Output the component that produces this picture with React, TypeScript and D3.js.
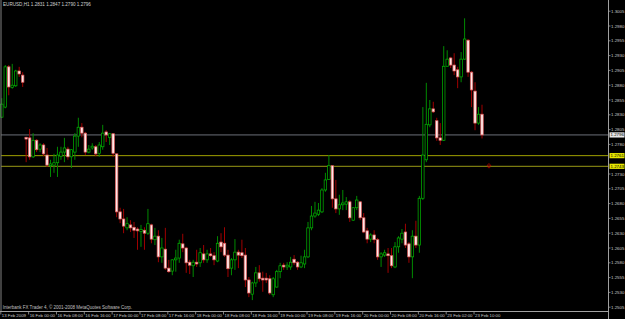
import React from "react";
import * as d3 from "d3";

const symbolTitle = "EURUSD,H1";

const opens = [
  1.2826, 1.2843, 1.2911, 1.2876, 1.2879, 1.2904, 1.2897, 1.2792, 1.2791, 1.2759,
  1.2787, 1.2772, 1.2779, 1.2762, 1.2744, 1.2745, 1.2749, 1.276, 1.2767, 1.2772,
  1.2759, 1.2767, 1.2794, 1.2809, 1.2799, 1.2767, 1.2774, 1.2776, 1.2765, 1.2776,
  1.2801, 1.2792, 1.2798, 1.2764, 1.2666, 1.2654, 1.2639, 1.2644, 1.264, 1.2637,
  1.2633, 1.2635, 1.263, 1.2644, 1.2619, 1.2625, 1.259, 1.2603, 1.2571, 1.2566,
  1.2585, 1.2588, 1.2612, 1.2605, 1.2581, 1.2575, 1.2581, 1.258, 1.2595, 1.2585,
  1.2595, 1.2592, 1.2583, 1.2615, 1.2613, 1.2593, 1.2571, 1.2585, 1.2598, 1.2597,
  1.2593, 1.2551, 1.2527, 1.2546, 1.2563, 1.2554, 1.2554, 1.2553, 1.2526, 1.2539,
  1.2565, 1.2576, 1.2573, 1.2573, 1.2586, 1.2581, 1.2573, 1.2578, 1.259, 1.2639,
  1.2659, 1.2662, 1.2666, 1.2703, 1.2721, 1.2744, 1.2688, 1.2671, 1.2678, 1.2679,
  1.2683, 1.2652, 1.2673, 1.2683, 1.2656, 1.2634, 1.262, 1.2627, 1.2619, 1.259,
  1.2593, 1.2595, 1.2592, 1.2573, 1.2607, 1.262, 1.2632, 1.2612, 1.259, 1.2625,
  1.261, 1.2689, 1.2754, 1.2813, 1.284, 1.282, 1.2791, 1.2787, 1.2912, 1.2926,
  1.2914, 1.2906, 1.2894, 1.2924, 1.2956, 1.2902, 1.287, 1.2816, 1.2831,
];
const highs = [
  1.2858, 1.2914, 1.2914, 1.2916, 1.2906, 1.2911, 1.2902, 1.2793, 1.2806, 1.2799,
  1.2789, 1.2782, 1.2782, 1.2774, 1.2754, 1.2764, 1.2776, 1.2776, 1.2791, 1.2776,
  1.2772, 1.2799, 1.2825, 1.2816, 1.2801, 1.2779, 1.2782, 1.2779, 1.2784, 1.2813,
  1.2804, 1.2799, 1.2799, 1.2765, 1.2673, 1.2671, 1.2657, 1.2652, 1.2649, 1.264,
  1.2644, 1.264, 1.2671, 1.2646, 1.2639, 1.2635, 1.2622, 1.2639, 1.2585, 1.2586,
  1.2602, 1.2619, 1.2629, 1.2607, 1.2585, 1.2585, 1.2602, 1.2605, 1.261, 1.2602,
  1.2605, 1.2598, 1.2625, 1.263, 1.264, 1.2602, 1.2588, 1.262, 1.2602, 1.2619,
  1.2605, 1.2556, 1.2548, 1.2573, 1.2576, 1.2565, 1.2563, 1.2559, 1.2556, 1.2568,
  1.258, 1.258, 1.2581, 1.259, 1.2593, 1.2583, 1.2592, 1.2602, 1.2649, 1.2676,
  1.2683, 1.2681, 1.2706, 1.2732, 1.2762, 1.2745, 1.272, 1.2695, 1.2703, 1.2691,
  1.2686, 1.2674, 1.2693, 1.2684, 1.2664, 1.2639, 1.263, 1.2635, 1.2622, 1.2598,
  1.2602, 1.2605, 1.2605, 1.2615, 1.2625, 1.2637, 1.2646, 1.2615, 1.2635, 1.2651,
  1.2693, 1.2843, 1.2884, 1.2855, 1.2852, 1.2825, 1.2816, 1.2946, 1.2939, 1.2928,
  1.2934, 1.2911, 1.2936, 1.2993, 1.2958, 1.2904, 1.2885, 1.2843, 1.2847,
];
const lows = [
  1.2825, 1.2841, 1.2863, 1.2874, 1.2877, 1.2894, 1.2877, 1.275, 1.2754, 1.2757,
  1.2767, 1.2767, 1.276, 1.2742, 1.2725, 1.2732, 1.2725, 1.2754, 1.275, 1.2754,
  1.274, 1.2754, 1.2776, 1.2792, 1.2762, 1.2765, 1.2771, 1.276, 1.2759, 1.2771,
  1.2784, 1.2779, 1.2759, 1.2657, 1.2647, 1.263, 1.2635, 1.2632, 1.2622, 1.2602,
  1.2607, 1.2602, 1.2627, 1.2613, 1.261, 1.2581, 1.258, 1.2568, 1.2563, 1.2559,
  1.2565, 1.258, 1.2598, 1.2563, 1.2561, 1.2556, 1.2573, 1.2573, 1.258, 1.258,
  1.259, 1.2576, 1.2581, 1.2598, 1.259, 1.2556, 1.2559, 1.2568, 1.2571, 1.2588,
  1.2539, 1.2522, 1.2517, 1.2539, 1.2548, 1.2531, 1.2546, 1.2526, 1.2522, 1.2538,
  1.2554, 1.2568, 1.2568, 1.2568, 1.2576, 1.2568, 1.2571, 1.2571, 1.2588, 1.2635,
  1.2656, 1.2659, 1.2664, 1.27, 1.272, 1.2673, 1.2664, 1.2661, 1.2669, 1.2669,
  1.2649, 1.2651, 1.2669, 1.2652, 1.263, 1.2613, 1.2615, 1.2613, 1.2585, 1.2573,
  1.259, 1.2563, 1.2571, 1.2571, 1.2597, 1.2613, 1.2605, 1.258, 1.2554, 1.2605,
  1.2597, 1.2686, 1.275, 1.2809, 1.2833, 1.2786, 1.2779, 1.2786, 1.2911, 1.2909,
  1.2897, 1.2875, 1.2885, 1.2923, 1.2894, 1.2843, 1.2804, 1.2813, 1.279,
];
const closes = [
  1.2848, 1.2911, 1.2877, 1.288, 1.2904, 1.2899, 1.2885, 1.2789, 1.2759, 1.2787,
  1.2771, 1.2779, 1.2764, 1.2745, 1.2747, 1.2749, 1.2762, 1.2767, 1.2774, 1.2759,
  1.2771, 1.2794, 1.2809, 1.2799, 1.2767, 1.2772, 1.2777, 1.2764, 1.2779, 1.2799,
  1.2796, 1.2798, 1.2765, 1.2666, 1.2654, 1.2642, 1.2646, 1.2639, 1.2635, 1.2634,
  1.2636, 1.263, 1.2646, 1.262, 1.2625, 1.259, 1.2605, 1.2571, 1.2565, 1.2585,
  1.2588, 1.2613, 1.2605, 1.258, 1.2576, 1.2581, 1.2578, 1.2597, 1.2585, 1.2595,
  1.2592, 1.2585, 1.2613, 1.2607, 1.2593, 1.257, 1.2585, 1.2598, 1.2593, 1.2592,
  1.2551, 1.2529, 1.2546, 1.2563, 1.2553, 1.2551, 1.2551, 1.2529, 1.2553, 1.2565,
  1.2575, 1.2573, 1.2576, 1.2581, 1.258, 1.2573, 1.258, 1.259, 1.2639, 1.2659,
  1.2664, 1.2669, 1.2703, 1.272, 1.2744, 1.2688, 1.2671, 1.2678, 1.2681, 1.2683,
  1.2656, 1.2673, 1.2686, 1.2656, 1.2632, 1.262, 1.2627, 1.2619, 1.259, 1.2595,
  1.2597, 1.2592, 1.2575, 1.2607, 1.2622, 1.263, 1.261, 1.259, 1.2625, 1.261,
  1.2689, 1.2762, 1.2814, 1.284, 1.2835, 1.2791, 1.2787, 1.2912, 1.2924, 1.2914,
  1.2904, 1.2894, 1.2924, 1.2958, 1.2902, 1.2872, 1.2816, 1.2831, 1.2796,
];

const timeLabels = [
  "13 Feb 2009", "16 Feb 00:00", "16 Feb 08:00", "16 Feb 16:00", "17 Feb 00:00",
  "17 Feb 08:00", "17 Feb 16:00", "18 Feb 00:00", "18 Feb 08:00", "18 Feb 16:00",
  "19 Feb 00:00", "19 Feb 08:00", "19 Feb 16:00", "20 Feb 00:00", "20 Feb 08:00",
  "20 Feb 16:00", "23 Feb 02:00", "23 Feb 10:00",
];
const timeLabelBars = [0, 8, 16, 24, 32, 40, 48, 56, 64, 72, 80, 88, 96, 104, 112, 120, 128, 136];

const priceTicks = [
  1.3005, 1.298, 1.2955, 1.293, 1.2905, 1.288, 1.2855, 1.283, 1.2805, 1.278,
  1.273, 1.2705, 1.268, 1.2655, 1.263, 1.2605, 1.258, 1.2555, 1.253, 1.2505,
];
const bidPrice = 1.2796;
const levelLines = [1.2761, 1.2743];
const markerBar = 140;
const markerPrice = 1.2744;
const copyright = "Interbank FX Trader 4, \u00a9 2001-2008 MetaQuotes Software Corp.";

const W = 625;
const H = 319;
const AXIS_X = 608.5;
const AXIS_Y = 311.5;
const FONT = "'Liberation Sans', Arial, sans-serif";

export default function App() {
  const n = opens.length;
  const x = d3.scaleLinear().domain([0, n - 1]).range([1.8, 482]);
  const y = d3.scaleLinear().domain([1.2505, 1.3005]).range([307.2, 11.2]);
  const bw = 2.5;
  const last = n - 1;
  const title = `${symbolTitle} ${opens[last].toFixed(4)} ${highs[last].toFixed(4)} ${lows[last].toFixed(4)} ${closes[last].toFixed(4)}`;

  const candles = d3.range(n).map((i) => {
    const o = opens[i], c = closes[i], h = highs[i], l = lows[i];
    const up = c > o;
    const cx = x(i);
    const top = y(Math.max(o, c));
    const bot = y(Math.min(o, c));
    const bh = Math.max(bot - top, 0.8);
    return (
      <g key={i}>
        <line x1={cx} x2={cx} y1={y(h)} y2={y(l)} stroke={up ? "#008a00" : "#a00000"} strokeWidth={1} />
        <rect
          x={cx - bw / 2}
          y={top}
          width={bw}
          height={bh}
          fill={up ? "#000" : "#ffe6e6"}
          stroke={up ? "#00b800" : "#e05a5a"}
          strokeWidth={0.7}
        />
      </g>
    );
  });

  const mx = x(markerBar);
  const my = y(markerPrice);

  return (
    <svg
      width={W}
      height={H}
      style={{ position: "fixed", left: 0, top: 0, background: "#000", display: "block" }}
    >
      <rect x={0} y={0} width={W} height={H} fill="#000" />
      <line x1={1} x2={AXIS_X} y1={y(bidPrice)} y2={y(bidPrice)} stroke="#6c7078" strokeWidth={1} />
      <line x1={1} x2={AXIS_X} y1={y(levelLines[0])} y2={y(levelLines[0])} stroke="#a0a000" strokeWidth={1} />
      <line x1={1} x2={AXIS_X} y1={y(levelLines[1])} y2={y(levelLines[1])} stroke="#7a7a10" strokeWidth={1.2} />
      {candles}
      <path
        d={`M${mx - 1.8},${my - 0.2} L${mx},${my - 2.2} L${mx + 1.8},${my - 0.2} L${mx + 0.8},${my - 0.2} L${mx + 0.8},${my + 2} L${mx - 0.8},${my + 2} L${mx - 0.8},${my - 0.2} Z`}
        fill="none"
        stroke="#b00000"
        strokeWidth={0.8}
      />
      <line x1={1} x2={1} y1={0} y2={AXIS_Y} stroke="#808080" strokeWidth={1} />
      <line x1={AXIS_X} x2={AXIS_X} y1={0} y2={H} stroke="#a0a0a0" strokeWidth={1} />
      <line x1={0} x2={AXIS_X} y1={AXIS_Y} y2={AXIS_Y} stroke="#a0a0a0" strokeWidth={1} />
      {priceTicks.map((p) => (
        <g key={p}>
          <line x1={AXIS_X} x2={AXIS_X + 2} y1={y(p)} y2={y(p)} stroke="#a0a0a0" strokeWidth={0.8} />
          <text x={611} y={y(p)} dy="1.5" fontSize={4.4} fill="#c8c8c8" fontFamily={FONT}>
            {p.toFixed(4)}
          </text>
        </g>
      ))}
      {[{ p: bidPrice, fill: "#e8e8e8" }, { p: levelLines[0], fill: "#e6e600" }, { p: levelLines[1], fill: "#e6e600" }].map((b) => (
        <g key={"b" + b.p}>
          <rect x={609.5} y={y(b.p) - 2.6} width={15} height={5.2} fill={b.fill} />
          <text x={610.5} y={y(b.p)} dy="1.5" fontSize={4.4} fill="#000" fontFamily={FONT}>
            {b.p.toFixed(4)}
          </text>
        </g>
      ))}
      {timeLabels.map((t, k) => (
        <g key={t}>
          <line x1={x(timeLabelBars[k]) - 1} x2={x(timeLabelBars[k]) - 1} y1={AXIS_Y} y2={AXIS_Y + 3} stroke="#a0a0a0" strokeWidth={0.8} />
          <text x={Math.max(x(timeLabelBars[k]), 1.2)} y={316.8} fontSize={4.3} fill="#c8c8c8" fontFamily={FONT}>
            {t}
          </text>
        </g>
      ))}
      <text x={3} y={6.4} fontSize={4.6} fill="#d0d0d0" fontFamily={FONT}>
        {title}
      </text>
      <text x={2.7} y={309.3} fontSize={4.5} fill="#c0c0c0" fontFamily={FONT}>
        {copyright}
      </text>
    </svg>
  );
}
